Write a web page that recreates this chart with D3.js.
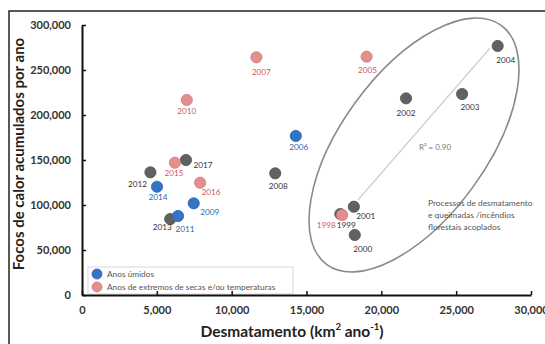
<!DOCTYPE html>
<html>
<head>
<meta charset="utf-8">
<script src="https://cdn.jsdelivr.net/npm/d3@7/dist/d3.min.js"></script>
<style>
  html, body { margin: 0; padding: 0; background: #fff; }
  svg { display: block; }
  text { font-family: Lato, "Open Sans", sans-serif; }
</style>
</head>
<body>
<svg id="chart" width="545" height="344"></svg>
<script>
// ---- data ----
const years = [1998, 1999, 2000, 2001, 2002, 2003, 2004, 2005, 2006, 2007,
               2008, 2009, 2010, 2011, 2012, 2013, 2014, 2015, 2016, 2017];
const deforestation = [17383, 17259, 18226, 18165, 21651, 25396, 27772, 19014, 14286, 11651,
                       12911, 7464, 7000, 6418, 4571, 5891, 5012, 6207, 7893, 6947];
const fireFoci = [88900, 90000, 66700, 98100, 218500, 223300, 276700, 264800, 176700, 264100,
                  135200, 101900, 216700, 87800, 136300, 84400, 120300, 147000, 124800, 150000];
const yearType = ["dry", "other", "other", "other", "other", "other", "other", "dry", "wet", "dry",
                  "other", "wet", "dry", "wet", "other", "other", "wet", "dry", "dry", "other"];
const xTicks = [0, 5000, 10000, 15000, 20000, 25000, 30000];
const yTicks = [0, 50000, 100000, 150000, 200000, 250000, 300000];
const legendLabels = ["Anos úmidos", "Anos de extremos de secas e/ou temperaturas"];
const trendX = [18430, 27260];
const trendY = [105500, 274400];
const r2Label = "R² = 0.90";
const noteLines = ["Processos de desmatamento", "e queimadas /incêndios", "florestais acoplados"];

// ---- styles / layout ----
const fill = { dry: "#e38e8f", wet: "#3474c6", other: "#616161" };
const stroke = { dry: "#d47b7c", wet: "#2a63ad", other: "#505050" };
const labelColor = { dry: "#d2595b", wet: "#2f68b0", other: "#333" };
const labelOffset = {
  1998: [-16, 10], 1999: [6, 11], 2000: [8, 14], 2001: [12, 9], 2002: [0, 15],
  2003: [8, 13], 2004: [8, 14], 2005: [1, 13], 2006: [3, 11], 2007: [5, 15],
  2008: [3, 13], 2009: [16, 9], 2010: [0, 11], 2011: [7, 13], 2012: [-13, 12],
  2013: [-8, 8], 2014: [1, 10], 2015: [-1, 10], 2016: [11, 9], 2017: [17, 5]
};

const svg = d3.select("#chart");
const x = d3.scaleLinear().domain([0, 30000]).range([82, 531]);
const y = d3.scaleLinear().domain([0, 300000]).range([295, 25]);

// frame
svg.append("path").attr("d", "M9,344 V11 H545")
  .attr("fill", "none").attr("stroke", "#222").attr("stroke-width", 1.5);

// ellipse
const ellCx = 22183, ellCy = 166700;
svg.append("ellipse")
  .attr("transform", `translate(${x(ellCx)},${y(ellCy)}) rotate(-53.9)`)
  .attr("rx", 148).attr("ry", 72.4)
  .attr("fill", "none").attr("stroke", "#8a8a8a").attr("stroke-width", 1.6);

// trend line
svg.append("line")
  .attr("x1", x(trendX[0])).attr("y1", y(trendY[0]))
  .attr("x2", x(trendX[1])).attr("y2", y(trendY[1]))
  .attr("stroke", "#c8c8c8").attr("stroke-width", 1.2);

svg.append("text").attr("x", 435).attr("y", 147)
  .attr("text-anchor", "middle").attr("dominant-baseline", "central")
  .attr("font-size", 8).attr("fill", "#777").text(r2Label);

svg.append("g").selectAll("text").data(noteLines).join("text")
  .attr("x", 428).attr("y", (d, i) => 203 + i * 12)
  .attr("dominant-baseline", "central")
  .attr("font-size", 8.4).attr("fill", "#555").text(d => d);

// points
const pts = years.map((yr, i) => ({ yr, dx: deforestation[i], fc: fireFoci[i], t: yearType[i] }));
const order = [1999, 2013, 2017];
const drawPts = pts.slice().sort((a, b) => (order.includes(b.yr) ? 1 : 0) - (order.includes(a.yr) ? 1 : 0));

svg.append("g").selectAll("circle").data(drawPts).join("circle")
  .attr("cx", d => x(d.dx)).attr("cy", d => y(d.fc)).attr("r", 5.6)
  .attr("fill", d => fill[d.t]).attr("stroke", d => stroke[d.t]).attr("stroke-width", 0.8);

svg.append("g").selectAll("text").data(pts).join("text")
  .attr("x", d => x(d.dx) + labelOffset[d.yr][0])
  .attr("y", d => y(d.fc) + labelOffset[d.yr][1])
  .attr("text-anchor", "middle").attr("dominant-baseline", "central")
  .attr("font-size", 8.2).attr("fill", d => labelColor[d.t])
  .text(d => d.yr);

// legend
const lg = svg.append("g");
lg.append("rect").attr("x", 88).attr("y", 267).attr("width", 205).attr("height", 27)
  .attr("fill", "#fff").attr("stroke", "#cfcfcf").attr("stroke-width", 0.8);
const lgTypes = ["wet", "dry"];
lg.selectAll("circle").data(lgTypes).join("circle")
  .attr("cx", 97).attr("cy", (d, i) => 274 + i * 13).attr("r", 5)
  .attr("fill", d => fill[d]).attr("stroke", d => stroke[d]).attr("stroke-width", 0.8);
lg.selectAll("text").data(legendLabels).join("text")
  .attr("x", 107).attr("y", (d, i) => 274 + i * 13)
  .attr("dominant-baseline", "central")
  .attr("font-size", 8.3).attr("fill", "#555").text(d => d);

// axes
const fmt = d3.format(",");
const xAxis = svg.append("g").attr("transform", "translate(0,295)")
  .call(d3.axisBottom(x).tickValues(xTicks).tickFormat(fmt).tickSizeInner(-4).tickSizeOuter(0).tickPadding(11));
const yAxis = svg.append("g").attr("transform", "translate(82,0)")
  .call(d3.axisLeft(y).tickValues(yTicks).tickFormat(fmt).tickSizeInner(-4).tickSizeOuter(0).tickPadding(11));
[xAxis, yAxis].forEach(g => {
  g.select(".domain").attr("stroke", "#111").attr("stroke-width", 2);
  g.selectAll(".tick line").attr("stroke", "#111").attr("stroke-width", 1.5);
  g.selectAll(".tick text").attr("font-family", "Lato, sans-serif")
    .attr("font-size", 11).attr("font-weight", "bold").attr("fill", "#333");
});

// axis titles
const xt = svg.append("text").attr("x", 292).attr("y", 331)
  .attr("text-anchor", "middle").attr("dominant-baseline", "central")
  .attr("font-size", 15.5).attr("font-weight", "bold").attr("fill", "#222");
xt.append("tspan").text("Desmatamento (km");
xt.append("tspan").attr("font-size", 9.5).attr("dy", -5).text("2");
xt.append("tspan").attr("dy", 5).text(" ano");
xt.append("tspan").attr("font-size", 9.5).attr("dy", -5).text("-1");
xt.append("tspan").attr("dy", 5).text(")");

svg.append("text").attr("transform", "translate(18,154) rotate(-90)")
  .attr("text-anchor", "middle").attr("dominant-baseline", "central")
  .attr("font-size", 15).attr("font-weight", "bold").attr("fill", "#222")
  .text("Focos de calor acumulados por ano");
</script>
</body>
</html>
